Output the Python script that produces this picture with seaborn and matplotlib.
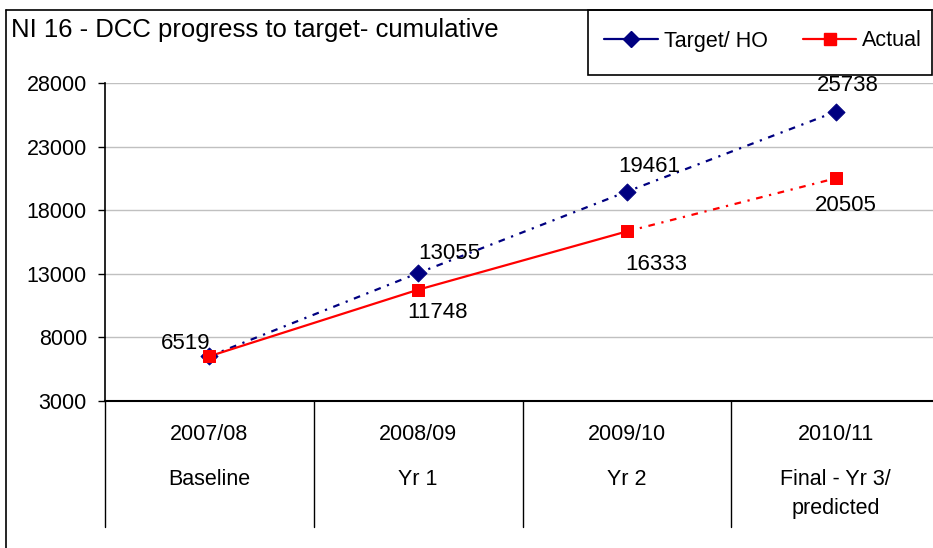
import matplotlib
matplotlib.use("Agg")
import matplotlib.pyplot as plt
import seaborn as sns
import pandas as pd
from matplotlib.lines import Line2D
from matplotlib.patches import Rectangle

# chart data
years = ["2007/08", "2008/09", "2009/10", "2010/11"]
stages = ["Baseline", "Yr 1", "Yr 2", "Final - Yr 3/\npredicted"]
target = [6519, 13055, 19461, 25738]
actual = [6519, 11748, 16333, 20505]
yticks = [3000, 8000, 13000, 18000, 23000, 28000]

# label offsets in pixels (dx, dy) - layout only
target_off = [None, (31, 20), (22, 25), (12, 26)]
actual_off = [(-24, 13), (19, -23), (29, -33), (10, -27)]

sns.set_theme(style="white")
plt.rcParams["font.family"] = ["Liberation Sans", "DejaVu Sans"]
plt.rcParams["text.color"] = "black"
plt.rcParams["ytick.color"] = "black"
plt.rcParams["ytick.labelcolor"] = "black"

W, H = 933, 548
fig = plt.figure(figsize=(W / 100, H / 100), dpi=100)
ax = fig.add_axes([105 / W, 1 - 401 / H, (940 - 105) / W, 318 / H])

x = list(range(len(years)))
df_t = pd.DataFrame({"x": x, "y": target})
df_a_solid = pd.DataFrame({"x": x[:3], "y": actual[:3]})
df_a_pred = pd.DataFrame({"x": x[2:], "y": actual[2:]})

navy = "#000080"
red = "#FF0000"
dotted = (0, (3, 3, 1, 3))

sns.lineplot(data=df_t, x="x", y="y", ax=ax, color=navy, linewidth=1.6,
             linestyle=dotted, zorder=3)
sns.lineplot(data=df_a_solid, x="x", y="y", ax=ax, color=red, linewidth=1.6, zorder=3)
sns.lineplot(data=df_a_pred, x="x", y="y", ax=ax, color=red, linewidth=1.6,
             linestyle=dotted, zorder=3)
sns.scatterplot(data=df_t, x="x", y="y", ax=ax, marker="D", color=navy, s=75,
                edgecolor=navy, zorder=4)
sns.scatterplot(data=pd.DataFrame({"x": x, "y": actual}), x="x", y="y", ax=ax,
                marker="s", color=red, s=80, edgecolor=red, zorder=5)

ax.set_xlim(-0.5, 3.5)
ax.set_ylim(3000, 28000)
ax.set_yticks(yticks)
ax.set_yticklabels([str(v) for v in yticks], fontsize=15.5)
ax.set_xticks([])
ax.set_xlabel("")
ax.set_ylabel("")
ax.yaxis.grid(True, color="#c0c0c0", linewidth=1)
ax.tick_params(axis="y", which="both", left=True, length=5, width=1, color="black", pad=8)
for s in ["top", "right"]:
    ax.spines[s].set_visible(False)
ax.spines["left"].set_color("black")
ax.spines["bottom"].set_color("black")
ax.spines["left"].set_linewidth(1.2)
ax.spines["bottom"].set_linewidth(1.5)

# data labels
px = 72 / 100
for i, (v, off) in enumerate(zip(target, target_off)):
    if off is None:
        continue
    ax.annotate(str(v), (i, v), xytext=(off[0] * px, off[1] * px),
                textcoords="offset points", ha="center", va="center", fontsize=16)
for i, (v, off) in enumerate(zip(actual, actual_off)):
    ax.annotate(str(v), (i, v), xytext=(off[0] * px, off[1] * px),
                textcoords="offset points", ha="center", va="center", fontsize=16)

# category table below the axis
tr = ax.get_xaxis_transform()
ybot = -(527 - 401) / 318
for b in [-0.5, 0.5, 1.5, 2.5, 3.5]:
    ax.plot([b, b], [0, ybot], transform=tr, color="black", linewidth=1, clip_on=False)
for i in x:
    ax.text(i, -(434 - 401) / 318, years[i], transform=tr, ha="center", va="center",
            fontsize=15.5)
    ax.text(i, -(469 - 401) / 318, stages[i], transform=tr, ha="center", va="top",
            fontsize=15.5, linespacing=1.5)

# chart frame and title
fig.add_artist(Line2D([6 / W, 6 / W], [0, 1 - 10 / H], color="black", linewidth=1.2))
fig.add_artist(Line2D([6 / W, 1], [1 - 10 / H, 1 - 10 / H], color="black", linewidth=1.2))
fig.text(11 / W, 1 - 30 / H, "NI 16 - DCC progress to target- cumulative",
         ha="left", va="center", fontsize=18.5)

# legend box
fig.add_artist(Rectangle((588 / W, 1 - 75 / H), (932 - 588) / W, 65 / H,
                         transform=fig.transFigure, fill=False, edgecolor="black",
                         linewidth=1.2))
handles = [
    Line2D([], [], color=navy, marker="D", markersize=8, linewidth=1.6),
    Line2D([], [], color=red, marker="s", markersize=9, linewidth=1.6),
]
leg = fig.legend(handles, ["Target/ HO", "Actual"], ncol=2, fontsize=15.5,
                 loc="center left", mode="expand",
                 bbox_to_anchor=(600 / W, 1 - 41 / H, (926 - 600) / W, 0),
                 frameon=False, borderaxespad=0, handlelength=2.5,
                 handletextpad=0.25, columnspacing=1.0, borderpad=0.2)

fig.savefig("out.png", dpi=100)
